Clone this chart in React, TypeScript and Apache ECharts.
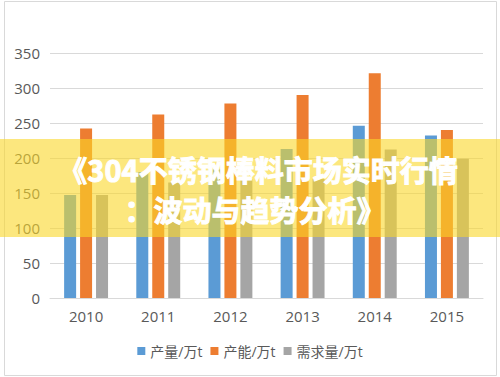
import React, { useEffect, useRef } from "react";
import * as echarts from "echarts";

const years = ["2010", "2011", "2012", "2013", "2014", "2015"];
const output = [147, 180, 184, 213, 246, 232];
const capacity = [242, 262, 278, 290, 321, 240];
const demand = [147, 165, 170, 170, 212, 199];
const seriesNames = ["产量/万t", "产能/万t", "需求量/万t"];
const titleLine1 = "《304不锈钢棒料市场实时行情";
const titleLine2 = "：波动与趋势分析》";

export default function App() {
  const ref = useRef<HTMLDivElement>(null);
  useEffect(() => {
    if (!ref.current) return;
    const chart = echarts.init(ref.current, undefined, { renderer: "svg" });
    const font = "'Open Sans', 'Noto Sans CJK SC', sans-serif";
    const titleStyle = {
      fill: "#ffffff",
      font: "bold 29px 'Noto Sans CJK SC', sans-serif",
      lineHeight: 29,
      align: "center",
      verticalAlign: "middle",
      stroke: "#ffffff",
      lineWidth: 1,
      shadowColor: "rgba(0,0,0,0.12)",
      shadowBlur: 2,
    };
    chart.setOption({
      animation: false,
      backgroundColor: "#ffffff",
      textStyle: { fontFamily: font },
      grid: { left: 50, right: 17, top: 53, bottom: 79 },
      legend: {
        data: seriesNames,
        bottom: 14,
        left: "center",
        icon: "rect",
        itemWidth: 8,
        itemHeight: 8,
        itemGap: 8,
        textStyle: { color: "#595959", fontSize: 14, fontFamily: font },
      },
      xAxis: {
        type: "category",
        data: years,
        axisLine: { lineStyle: { color: "#D9D9D9" } },
        axisTick: { show: false },
        axisLabel: { color: "#595959", fontSize: 15, margin: 10 },
      },
      yAxis: {
        type: "value",
        min: 0,
        max: 350,
        interval: 50,
        axisLine: { show: false },
        axisTick: { show: false },
        axisLabel: { color: "#595959", fontSize: 15, margin: 10 },
        splitLine: { lineStyle: { color: "#D9D9D9", width: 1 } },
      },
      series: [
        { name: seriesNames[0], type: "bar", data: output, barWidth: 12, barGap: "33%", itemStyle: { color: "#5B9BD5" } },
        { name: seriesNames[1], type: "bar", data: capacity, barWidth: 12, barGap: "33%", itemStyle: { color: "#ED7D31" } },
        { name: seriesNames[2], type: "bar", data: demand, barWidth: 12, barGap: "33%", itemStyle: { color: "#A5A5A5" } },
      ],
      graphic: [
        {
          type: "rect",
          shape: { x: 4.5, y: 1.5, width: 492, height: 374 },
          style: { fill: "none", stroke: "#D9D9D9", lineWidth: 1 },
          silent: true,
          z: 0,
        },
        {
          type: "rect",
          shape: { x: 0, y: 139, width: 500, height: 98 },
          style: { fill: "rgba(250, 215, 40, 0.6)" },
          silent: true,
          z: 100,
        },
        {
          type: "text",
          x: 258,
          y: 169,
          z: 101,
          style: { ...titleStyle, text: titleLine1 },
        },
        {
          type: "text",
          x: 255,
          y: 209,
          z: 101,
          style: { ...titleStyle, text: titleLine2 },
        },
      ],
    });
    return () => chart.dispose();
  }, []);
  return (
    <div
      ref={ref}
      style={{ position: "fixed", left: 0, top: 0, width: 500, height: 377 }}
    />
  );
}
